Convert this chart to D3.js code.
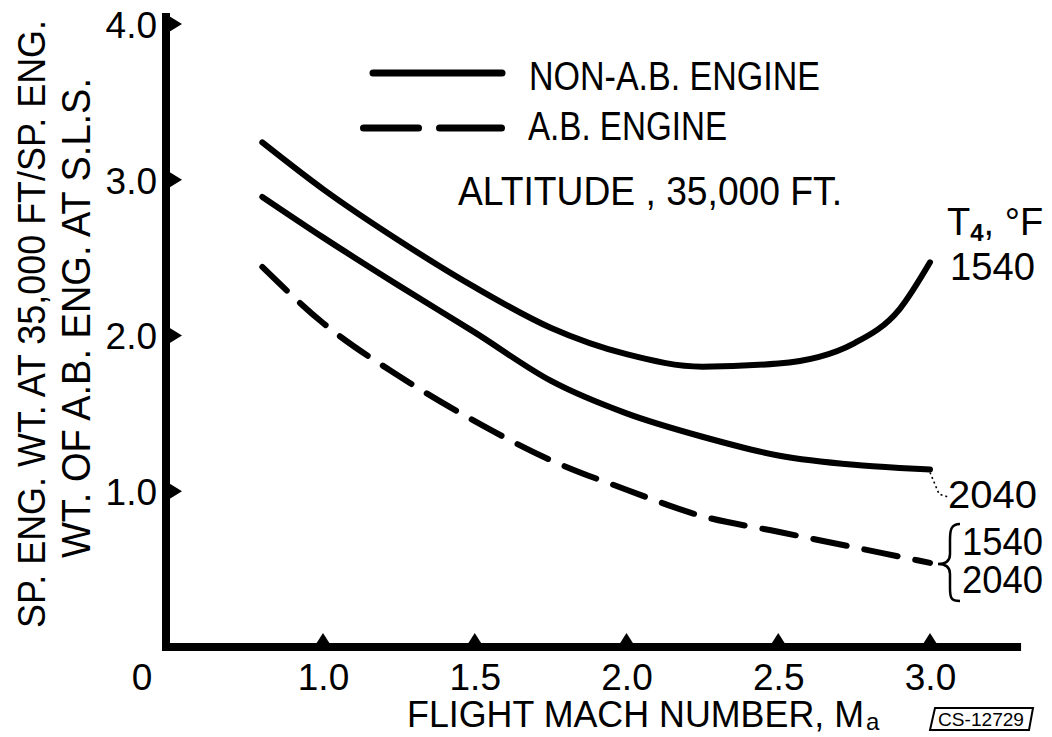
<!DOCTYPE html>
<html>
<head>
<meta charset="utf-8">
<script src="https://cdn.jsdelivr.net/npm/d3@7"></script>
<style>
  body { margin: 0; background: #fff; }
  svg { display: block; }
  text { font-family: "Liberation Sans", Arial, sans-serif; fill: #000; }
</style>
</head>
<body>
<svg width="1052" height="737"></svg>
<script>
// flight Mach number, sampled along the curves
var mach = [0.8, 1.0, 1.25, 1.5, 1.75, 2.0, 2.25, 2.5, 2.75, 2.9, 3.0];
// non-afterburning engine, T4 = 1540 F
var nonAb1540 = [3.24, 2.94, 2.61, 2.31, 2.05, 1.88, 1.80, 1.82, 1.95, 2.17, 2.47];
// non-afterburning engine, T4 = 2040 F
var nonAb2040 = [2.89, 2.63, 2.32, 2.02, 1.71, 1.50, 1.35, 1.23, 1.17, 1.15, 1.14];
// afterburning engine, T4 = 1540 and 2040 F
var abEngine = [2.44, 2.08, 1.74, 1.45, 1.20, 1.01, 0.84, 0.74, 0.64, 0.58, 0.54];

var xTicks = [1.0, 1.5, 2.0, 2.5, 3.0];
var yTicks = [1.0, 2.0, 3.0, 4.0];

var svg = d3.select("svg");

var x = d3.scaleLinear().domain([0.5, 3.3]).range([171.25, 1021.05]);
var y = d3.scaleLinear().domain([0, 4]).range([647, 24]);

var line = d3.line()
	.x(function(d){ return x(d[0]); })
	.y(function(d){ return y(d[1]); })
	.curve(d3.curveMonotoneX);

function pts(vals){
	return mach.map(function(m, i){ return [m, vals[i]]; });
}

// axes lines
svg.append("line")
	.attr("x1", 166).attr("y1", 13).attr("x2", 166).attr("y2", 651)
	.attr("stroke", "#000").attr("stroke-width", 8);
svg.append("line")
	.attr("x1", 162).attr("y1", 647).attr("x2", x(3.3)).attr("y2", 647)
	.attr("stroke", "#000").attr("stroke-width", 8);

// triangle ticks
svg.selectAll(".ytri").data(yTicks).enter().append("path")
	.attr("class", "ytri")
	.attr("d", function(d){ var v = y(d); return "M169," + (v - 8) + "L182," + v + "L169," + (v + 8) + "Z"; })
	.attr("fill", "#000");
svg.selectAll(".xtri").data(xTicks).enter().append("path")
	.attr("class", "xtri")
	.attr("d", function(d){ var u = x(d); return "M" + (u - 7) + ",644L" + u + ",633L" + (u + 7) + ",644Z"; })
	.attr("fill", "#000");

// tick labels through d3 axes
var yAxis = svg.append("g")
	.attr("transform", "translate(170,0)")
	.call(d3.axisLeft(y).tickValues(yTicks).tickFormat(d3.format(".1f")).tickSize(0).tickPadding(13));
var xAxis = svg.append("g")
	.attr("transform", "translate(0,647)")
	.call(d3.axisBottom(x).tickValues(xTicks).tickFormat(d3.format(".1f")).tickSize(0).tickPadding(17));
[yAxis, xAxis].forEach(function(g){
	g.select(".domain").remove();
	g.attr("font-family", null).attr("font-size", null);
	g.selectAll("text").attr("font-size", 37).attr("fill", "#000");
});
yAxis.selectAll("text").attr("dy", "0.36em");

svg.append("text").attr("x", 142).attr("y", 690).attr("text-anchor", "middle")
	.attr("font-size", 37).text("0");

// curves
svg.append("path").attr("d", line(pts(nonAb1540)))
	.attr("fill", "none").attr("stroke", "#000").attr("stroke-width", 6).attr("stroke-linecap", "round");
svg.append("path").attr("d", line(pts(nonAb2040)))
	.attr("fill", "none").attr("stroke", "#000").attr("stroke-width", 6).attr("stroke-linecap", "round");
svg.append("path").attr("d", line(pts(abEngine)))
	.attr("fill", "none").attr("stroke", "#000").attr("stroke-width", 6).attr("stroke-linecap", "round")
	.attr("stroke-dasharray", "34 18");

// legend
svg.append("line").attr("x1", 373).attr("y1", 73).attr("x2", 502).attr("y2", 73)
	.attr("stroke", "#000").attr("stroke-width", 7).attr("stroke-linecap", "round");
svg.append("line").attr("x1", 363.5).attr("y1", 128).attr("x2", 501.5).attr("y2", 128)
	.attr("stroke", "#000").attr("stroke-width", 7).attr("stroke-linecap", "round")
	.attr("stroke-dasharray", "55 21 62");
svg.append("text").attr("x", 529).attr("y", 90).attr("font-size", 40)
	.attr("textLength", 291).attr("lengthAdjust", "spacingAndGlyphs").text("NON-A.B. ENGINE");
svg.append("text").attr("x", 528).attr("y", 140).attr("font-size", 40)
	.attr("textLength", 199).attr("lengthAdjust", "spacingAndGlyphs").text("A.B. ENGINE");
svg.append("text").attr("x", 458).attr("y", 205).attr("font-size", 40)
	.attr("textLength", 384).attr("lengthAdjust", "spacingAndGlyphs").text("ALTITUDE , 35,000 FT.");

// curve labels
var t4 = svg.append("text").attr("x", 947).attr("y", 235).attr("font-size", 38);
t4.append("tspan").text("T");
t4.append("tspan").attr("font-size", 24).attr("font-weight", "bold").attr("dy", 6).text("4");
t4.append("tspan").attr("dy", -6).text(", °F");
svg.append("text").attr("x", 950).attr("y", 280).attr("font-size", 38)
	.attr("textLength", 85).attr("lengthAdjust", "spacingAndGlyphs").text("1540");
svg.append("text").attr("x", 948).attr("y", 508).attr("font-size", 38)
	.attr("textLength", 89).attr("lengthAdjust", "spacingAndGlyphs").text("2040");
svg.append("text").attr("x", 962).attr("y", 555).attr("font-size", 38)
	.attr("textLength", 81).attr("lengthAdjust", "spacingAndGlyphs").text("1540");
svg.append("text").attr("x", 962).attr("y", 593).attr("font-size", 38)
	.attr("textLength", 81).attr("lengthAdjust", "spacingAndGlyphs").text("2040");

// dotted leader and brace
svg.append("path").attr("d", "M" + x(3.0) + "," + (y(1.14) + 3) + "L939,494L948,497")
	.attr("fill", "none").attr("stroke", "#000").attr("stroke-width", 1.6).attr("stroke-dasharray", "2 3");
svg.append("path")
	.attr("d", "M960,524C951,524 950,530 950,540L950,554C950,561 946,564 938,564C946,564 950,567 950,574L950,588C950,598 951,601 960,601")
	.attr("fill", "none").attr("stroke", "#000").attr("stroke-width", 2.5);

// axis titles
var xt = svg.append("text").attr("x", 407).attr("y", 727).attr("font-size", 37);
xt.append("tspan").attr("textLength", 457).attr("lengthAdjust", "spacingAndGlyphs").text("FLIGHT  MACH  NUMBER, M");
xt.append("tspan").attr("dx", 2).attr("dy", 3).attr("font-size", 24).text("a");

svg.append("text").attr("transform", "translate(45,324) rotate(-90)").attr("text-anchor", "middle")
	.attr("font-size", 39).attr("textLength", 608).attr("lengthAdjust", "spacingAndGlyphs")
	.text("SP. ENG. WT. AT 35,000 FT/SP. ENG.");
svg.append("text").attr("transform", "translate(90,318) rotate(-90)").attr("text-anchor", "middle")
	.attr("font-size", 40).attr("textLength", 480).attr("lengthAdjust", "spacingAndGlyphs")
	.text("WT. OF A.B. ENG. AT S.L.S.");

// report number stamp
svg.append("path").attr("d", "M935,708L1033,708L1029,730L930,730Z")
	.attr("fill", "none").attr("stroke", "#000").attr("stroke-width", 2);
svg.append("text").attr("x", 981).attr("y", 726).attr("text-anchor", "middle").attr("font-size", 18)
	.attr("textLength", 86).attr("lengthAdjust", "spacingAndGlyphs").text("CS-12729");
</script>
</body>
</html>
